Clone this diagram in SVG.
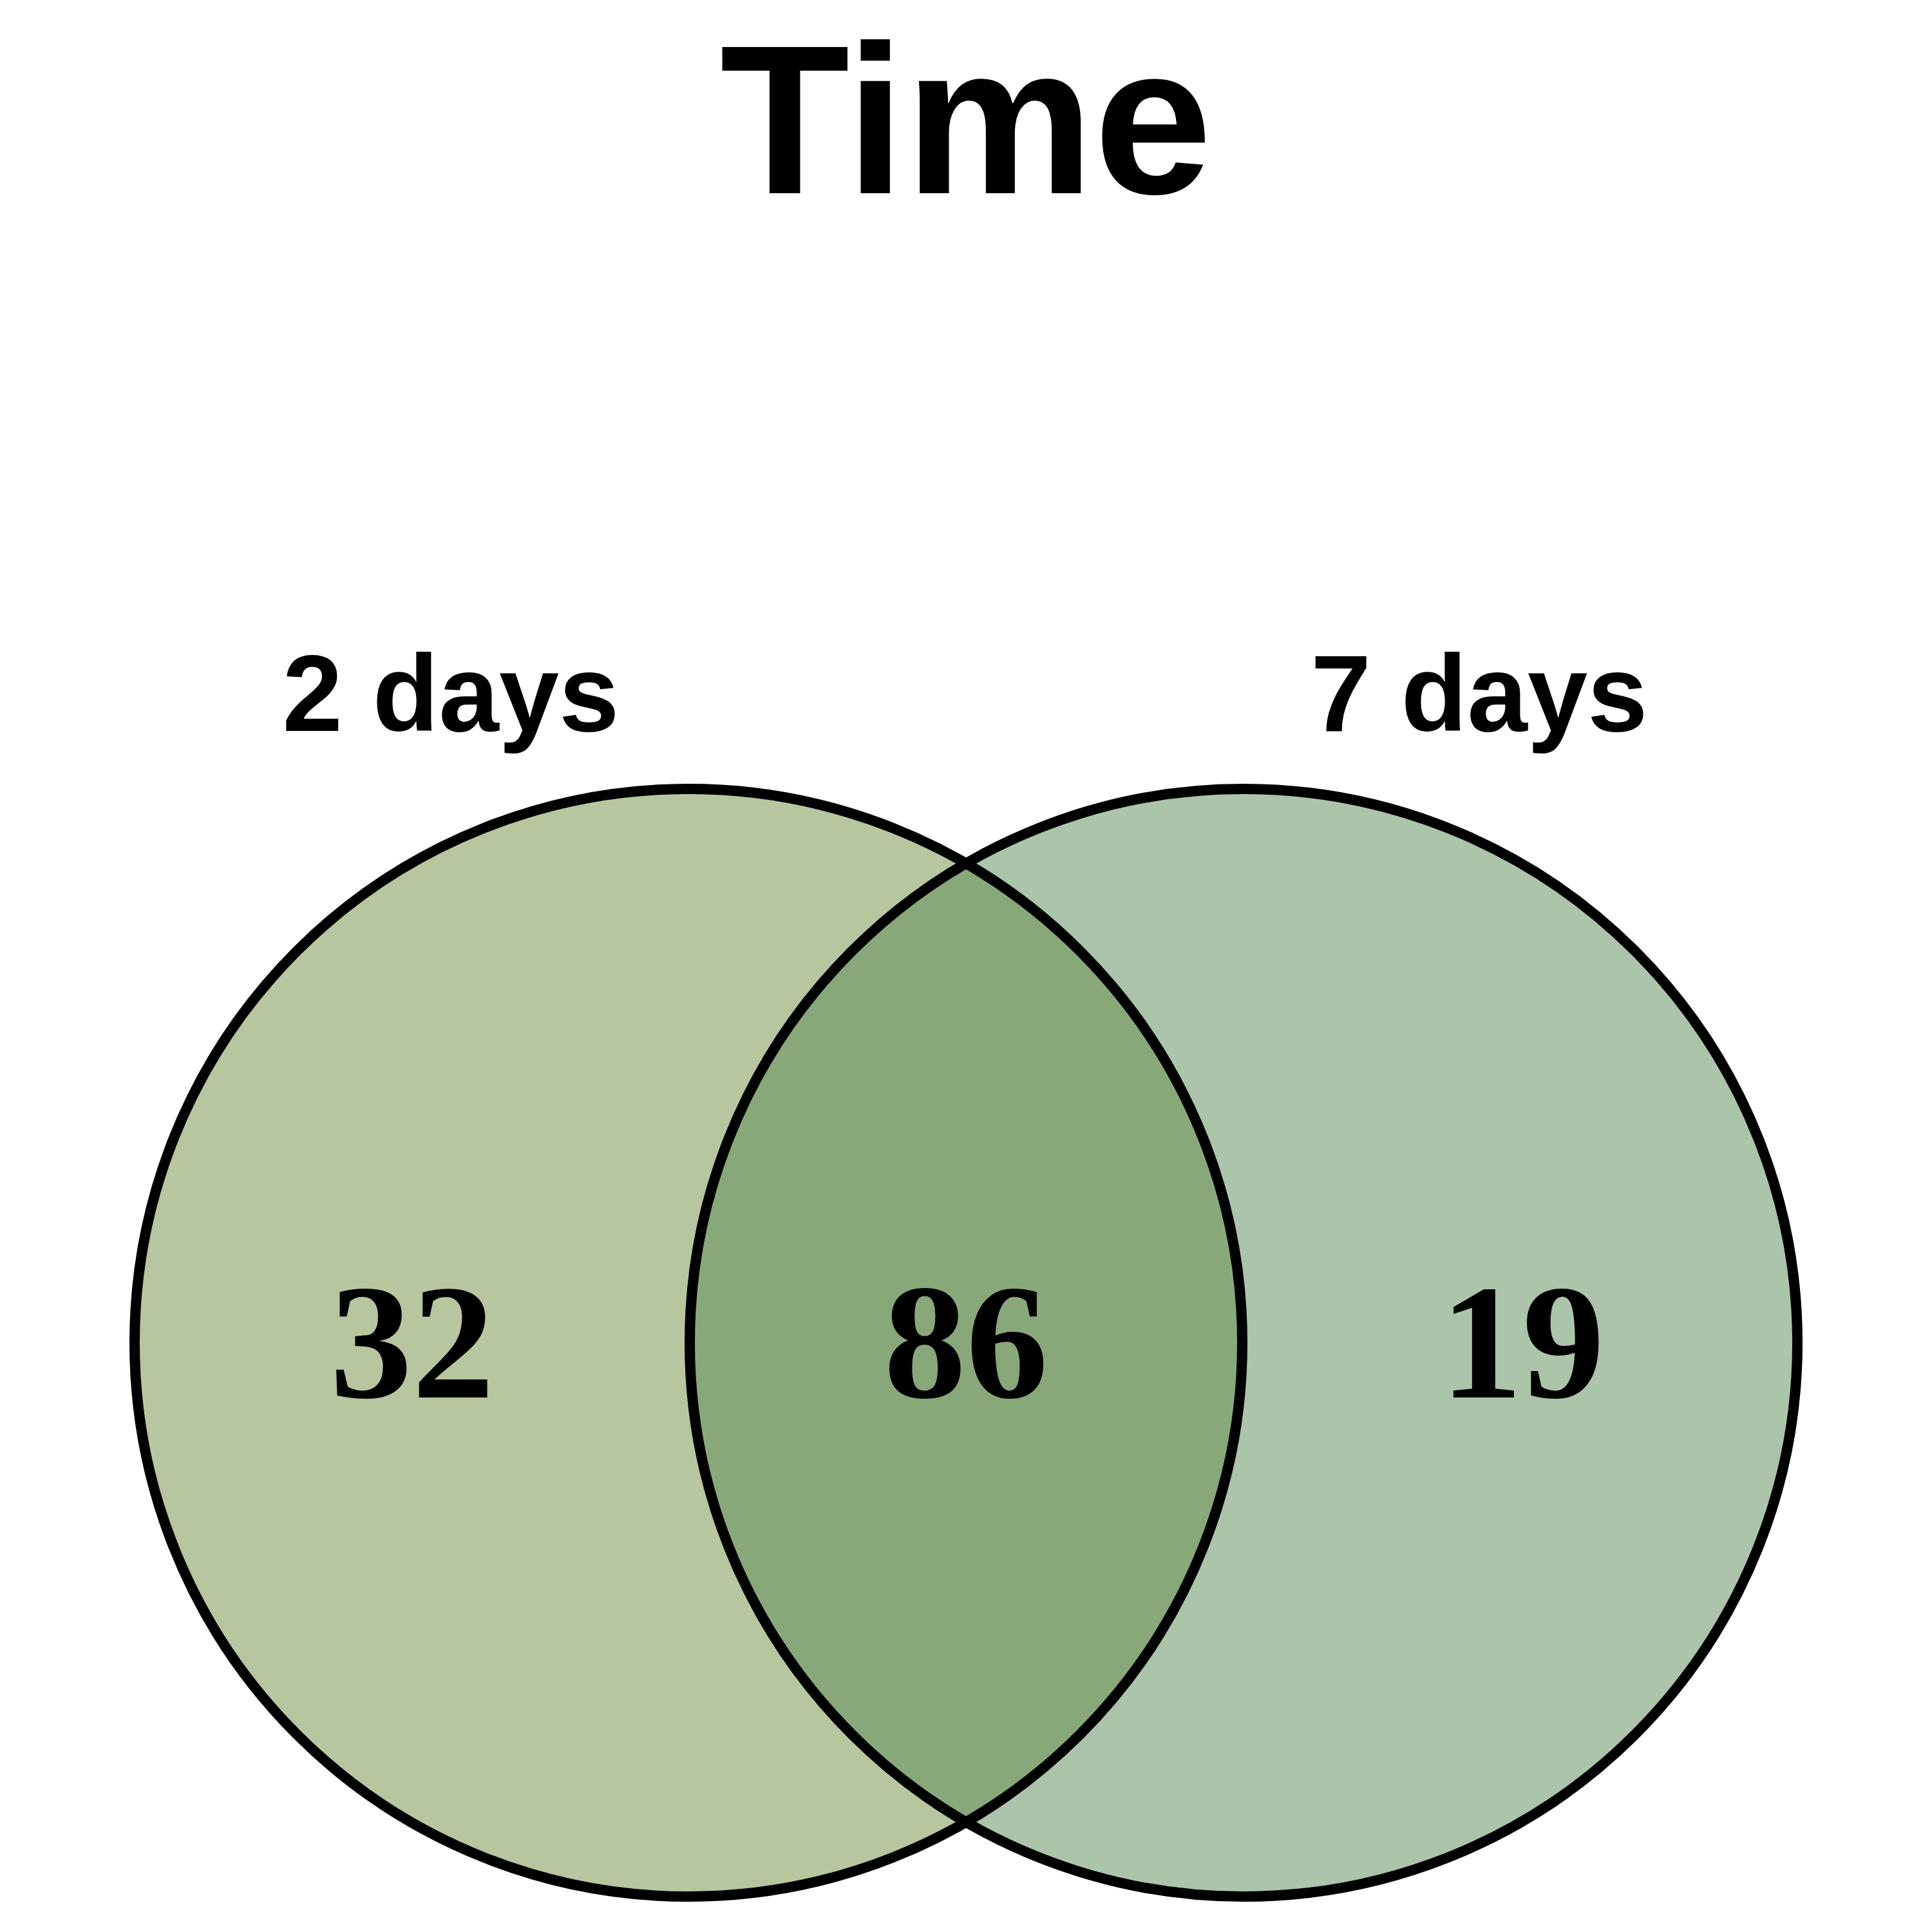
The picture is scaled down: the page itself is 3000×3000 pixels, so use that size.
<svg xmlns="http://www.w3.org/2000/svg" width="3000" height="3000" viewBox="0 0 3000 3000">
<style>
.title{font-family:"Liberation Sans",Arial,sans-serif;font-weight:bold;font-size:330px;fill:#000}
.set{font-family:"Liberation Sans",Arial,sans-serif;font-weight:bold;font-size:168px;fill:#000}
.num{font-family:"Liberation Serif","Times New Roman",serif;font-weight:bold;font-size:255px;fill:#000}
.ring{fill:none;stroke:#000;stroke-width:16}
</style>
<rect width="3000" height="3000" fill="#ffffff"/>
<text class="title" x="1500" y="300" text-anchor="middle">Time</text>
<g id="set-2days">
<circle cx="1069" cy="2085" r="860" fill="#b7c69e"/>
</g>
<g id="set-7days">
<circle cx="1931" cy="2085" r="860" fill="#abc4aa"/>
</g>
<g id="overlap">
<path d="M1500,1340.8 A860,860 0 0 1 1500,2829.2 A860,860 0 0 1 1500,1340.8 Z" fill="#88a879"/>
</g>
<g id="outlines">
<circle class="ring" cx="1069" cy="2085" r="860"/>
<circle class="ring" cx="1931" cy="2085" r="860"/>
</g>
<g id="labels">
<text class="set" x="700" y="1135" text-anchor="middle">2 days</text>
<text class="set" x="2297" y="1135" text-anchor="middle">7 days</text>
<text class="num" x="640" y="2170" text-anchor="middle">32</text>
<text class="num" x="1500" y="2170" text-anchor="middle">86</text>
<text class="num" x="2364" y="2170" text-anchor="middle">19</text>
</g>
</svg>
